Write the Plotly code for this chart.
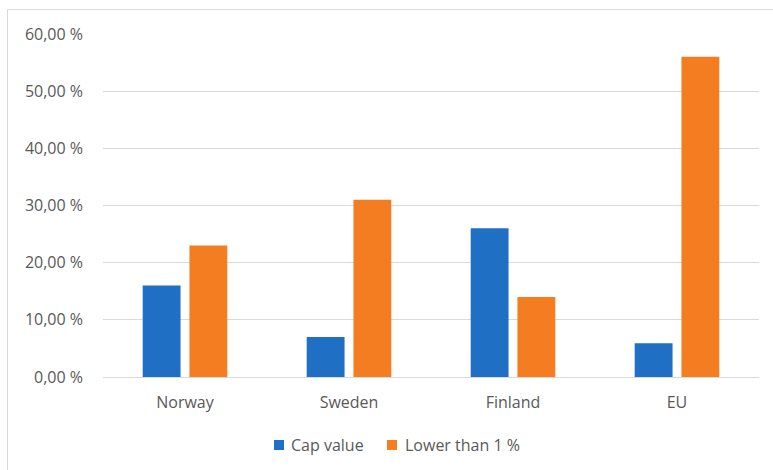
import plotly.graph_objects as go

categories = ["Norway", "Sweden", "Finland", "EU"]
cap_value = [16, 7, 26, 5.9]
lower_than_1 = [23, 31, 14, 56]
tick_values = [0, 10, 20, 30, 40, 50, 60]
tick_labels = ["0,00 %", "10,00 %", "20,00 %", "30,00 %", "40,00 %", "50,00 %", "60,00 %"]

BLUE = "#1f6fc5"
ORANGE = "#f47d21"
TEXT = "#595959"
FONT = "Open Sans, sans-serif"

series = [("Cap value", cap_value, BLUE), ("Lower than 1 %", lower_than_1, ORANGE)]

fig = go.Figure()
for name, vals, col in series:
    fig.add_trace(go.Bar(name=name, x=categories, y=vals,
                         marker=dict(color=col, line=dict(width=0))))

L, R, T, B = 103, 14, 34, 93
W, H = 773, 470
pw, ph = W - L - R, H - T - B

def px_x(p):
    return (p - L) / pw

def px_y(p):
    return (H - B - p) / ph

# legend drawn as small squares with labels beneath the plot
legend_items = [(274, 289), (387, 403)]
shapes = [dict(type="rect", xref="paper", yref="paper",
               x0=px_x(7.5), x1=px_x(778), y0=px_y(476), y1=px_y(9.5),
               line=dict(color="#d9d9d9", width=1), layer="below")]
annotations = []
for (sq_x, txt_x), (name, _, col) in zip(legend_items, series):
    shapes.append(dict(type="rect", xref="paper", yref="paper",
                       x0=px_x(sq_x), x1=px_x(sq_x + 10),
                       y0=px_y(450), y1=px_y(440),
                       fillcolor=col, line=dict(width=0)))
    annotations.append(dict(text=name, xref="paper", yref="paper",
                            x=px_x(txt_x), y=px_y(445), xanchor="left",
                            yanchor="middle", showarrow=False,
                            font=dict(family=FONT, size=16, color=TEXT)))

fig.update_layout(
    width=W, height=H,
    margin=dict(l=L, r=R, t=T, b=B),
    paper_bgcolor="white", plot_bgcolor="white",
    barmode="group", bargap=0.43, bargroupgap=0.19,
    font=dict(family=FONT, size=16, color=TEXT),
    showlegend=False,
    xaxis=dict(showgrid=False, showline=False, ticks="",
               ticklabelstandoff=14,
               tickfont=dict(size=16, color=TEXT)),
    yaxis=dict(range=[0, 60], tickvals=tick_values, ticktext=tick_labels,
               showgrid=True, gridcolor="#d9d9d9", gridwidth=1,
               zeroline=True, zerolinecolor="#d9d9d9", zerolinewidth=1,
               showline=False, ticks="", ticklabelstandoff=19,
               tickfont=dict(size=16, color=TEXT)),
    shapes=shapes,
    annotations=annotations,
)

fig.write_html("out.html")
